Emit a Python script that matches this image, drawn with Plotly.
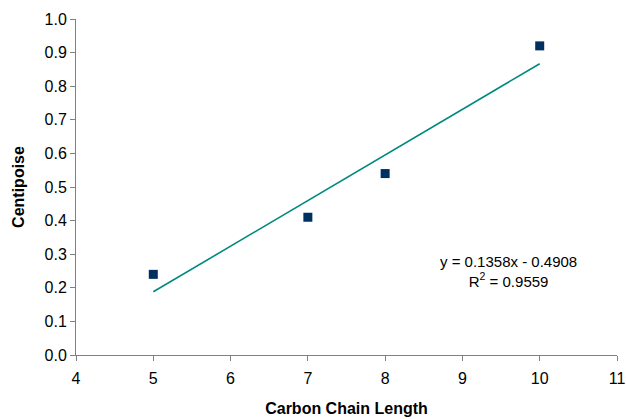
import numpy as np
import plotly.graph_objects as go

chain_length = [5, 7, 8, 10]
centipoise = [0.24, 0.41, 0.54, 0.92]

slope, intercept = np.polyfit(chain_length, centipoise, 1)
r2 = 0.9559
trend_x = [min(chain_length), max(chain_length)]
trend_y = [slope * x + intercept for x in trend_x]

fig = go.Figure()
fig.add_trace(go.Scatter(x=trend_x, y=trend_y, mode="lines",
                         line=dict(color="#00897f", width=1.6), showlegend=False))
fig.add_trace(go.Scatter(x=chain_length, y=centipoise, mode="markers",
                         marker=dict(symbol="square", size=9, color="#002f62"),
                         showlegend=False))

font = "Liberation Sans, Arial, sans-serif"
fig.update_layout(
    width=626, height=419,
    margin=dict(l=76, r=9, t=19, b=64),
    paper_bgcolor="white", plot_bgcolor="white",
    font=dict(family=font, size=16, color="black"),
    xaxis=dict(range=[4, 11], dtick=1, showgrid=False, zeroline=False, automargin=False,
               showline=True, linecolor="#808080", linewidth=1,
               ticks="outside", ticklen=5, tickcolor="#808080", ticklabelstandoff=4,
               title=dict(text="<b>Carbon Chain Length</b>", font=dict(size=16), standoff=16)),
    yaxis=dict(range=[0, 1.0], dtick=0.1, tickformat=".1f", showgrid=False, zeroline=False,
               automargin=False,
               showline=True, linecolor="#808080", linewidth=1,
               ticks="outside", ticklen=5, tickcolor="#808080",
               title=dict(text="<b>Centipoise</b>", font=dict(size=16), standoff=15)),
    annotations=[dict(x=9.6, y=0.25, xref="x", yref="y", showarrow=False,
                      text=f"y = {slope:.4f}x - {abs(intercept):.4f}<br>R<sup>2</sup> = {r2:.4f}",
                      font=dict(size=15, family=font), align="center")],
)
fig.write_html("out.html", config={"displayModeBar": False},
               post_script="document.body.style.margin='0';document.body.style.overflow='hidden';")
